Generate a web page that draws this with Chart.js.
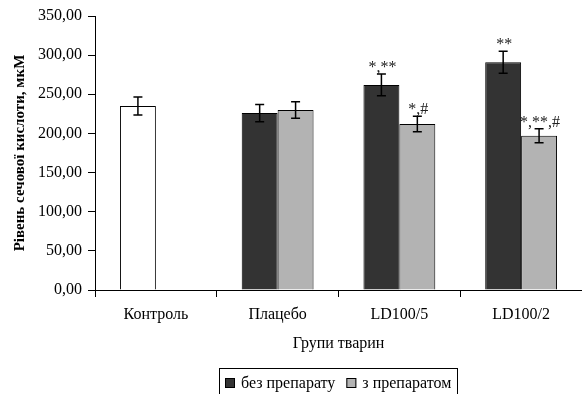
<!DOCTYPE html>
<html><head><meta charset="utf-8">
<script src="https://cdn.jsdelivr.net/npm/chart.js@4.4.0/dist/chart.umd.min.js"></script>
<style>html,body{margin:0;padding:0;background:#fff}#wrap{width:582px;height:394px}</style>
</head><body><div id="wrap"><canvas id="c" width="582" height="394"></canvas></div>
<script>
const categories = ['Контроль', 'Плацебо', 'LD100/5', 'LD100/2'];
const seriesNames = ['без препарату', 'з препаратом'];
const withoutDrug = [235, 226, 262, 291];
const withoutDrugErr = [11.5, 11, 14, 14];
const withDrug = [null, 230, 212, 197];
const withDrugErr = [null, 10.5, 10, 9];
const withoutDrugMarks = ['', '', '*,**', '**'];
const withDrugMarks = ['', '', '*,#', '*,**,#'];
const yTicks = [0, 50, 100, 150, 200, 250, 300, 350];
const xTitle = 'Групи тварин';
const yTitle = 'Рівень сечової кислоти, мкМ';

const FONT = '"Liberation Serif", "Times New Roman", serif';
const DARK = '#333333', LIGHT = '#b3b3b3';

const errs = [withoutDrugErr, withDrugErr];
const marks = [withoutDrugMarks, withDrugMarks];

const errorBarPlugin = {
  id: 'errbars',
  afterDatasetsDraw(chart) {
    const ctx = chart.ctx, y = chart.scales.y;
    ctx.save();
    chart.data.datasets.forEach((ds, di) => {
      const meta = chart.getDatasetMeta(di);
      meta.data.forEach((bar, i) => {
        const v = ds.data[i], e = errs[di][i];
        if (v == null || e == null) return;
        const x = bar.x;
        const yt = y.getPixelForValue(v + e), yb = y.getPixelForValue(v - e);
        ctx.strokeStyle = '#000'; ctx.lineWidth = 1.5;
        ctx.beginPath();
        ctx.moveTo(x, yt); ctx.lineTo(x, yb);
        ctx.moveTo(x - 4.5, yt); ctx.lineTo(x + 4.5, yt);
        ctx.moveTo(x - 4.5, yb); ctx.lineTo(x + 4.5, yb);
        ctx.stroke();
        const m = marks[di][i];
        if (m) {
          ctx.fillStyle = '#222';
          ctx.font = '16px ' + FONT;
          ctx.textAlign = 'center';
          ctx.textBaseline = 'alphabetic';
          ctx.fillText(m, x + 1, yt - 2);
        }
      });
    });
    ctx.restore();
  }
};

// Legend drawn in the chart's own canvas: framed box with two swatches
const legendPlugin = {
  id: 'framedLegend',
  afterDraw(chart) {
    const ctx = chart.ctx, ca = chart.chartArea;
    const colors = [DARK, LIGHT];
    ctx.save();
    ctx.font = '16px ' + FONT;
    const sq = 10, gap = 6, between = 11, pad = 6;
    const widths = seriesNames.map(t => ctx.measureText(t).width);
    const total = sq + gap + widths[0] + between + sq + gap + widths[1];
    const cx = (ca.left + ca.right) / 2;
    let x = Math.round(cx - total / 2);
    const yc = 383;
    ctx.strokeStyle = '#000'; ctx.lineWidth = 1;
    ctx.strokeRect(x - pad + 0.5, 368.5, Math.round(total + 2 * pad), 40);
    seriesNames.forEach((t, i) => {
      ctx.fillStyle = colors[i];
      ctx.fillRect(x, yc - 5, sq, sq);
      ctx.strokeRect(x + 0.5, yc - 5 + 0.5, sq - 1, sq - 1);
      x += sq + gap;
      ctx.fillStyle = '#000';
      ctx.textAlign = 'left'; ctx.textBaseline = 'middle';
      ctx.fillText(t, x, yc + 1);
      x += widths[i] + between;
    });
    ctx.restore();
  }
};

new Chart(document.getElementById('c'), {
  type: 'bar',
  data: {
    labels: categories,
    datasets: [
      { label: seriesNames[0], data: withoutDrug,
        backgroundColor: withoutDrug.map((v, i) => i === 0 ? '#ffffff' : DARK),
        borderColor: '#000', borderWidth: 1 },
      { label: seriesNames[1], data: withDrug, backgroundColor: LIGHT,
        borderColor: '#000', borderWidth: 1 }
    ]
  },
  options: {
    responsive: false, animation: false,
    layout: { padding: { top: 16, left: 0, right: 0, bottom: 41 } },
    datasets: { bar: { categoryPercentage: 0.59, barPercentage: 1.0 } },
    plugins: { tooltip: { enabled: false }, legend: { display: false } },
    scales: {
      x: {
        offset: true,
        grid: { offset: true, drawOnChartArea: false, color: '#000', tickLength: 7, tickColor: '#000' },
        border: { color: '#000', width: 1 },
        ticks: { font: { family: FONT, size: 16 }, color: '#000', padding: 8, maxRotation: 0 },
        title: { display: true, text: xTitle, font: { family: FONT, size: 16 }, color: '#000', padding: { top: 4, bottom: 0 } },
        afterFit: (s) => { s.height = 63; }
      },
      y: {
        min: 0, max: 350,
        afterBuildTicks: (s) => { s.ticks = yTicks.map(v => ({ value: v })); },
        grid: { drawOnChartArea: false, color: '#000', tickLength: 7, tickColor: '#000' },
        border: { color: '#000', width: 1 },
        ticks: { font: { family: FONT, size: 16 }, color: '#000', padding: 6,
          callback: (v) => Number(v).toFixed(2).replace('.', ',') },
        title: { display: true, text: yTitle, font: { family: FONT, size: 15, weight: 'bold' }, color: '#000', padding: { top: 11, bottom: 0 } },
        afterFit: (s) => { s.width = 95; }
      }
    }
  },
  plugins: [errorBarPlugin, legendPlugin]
});
</script></body></html>
